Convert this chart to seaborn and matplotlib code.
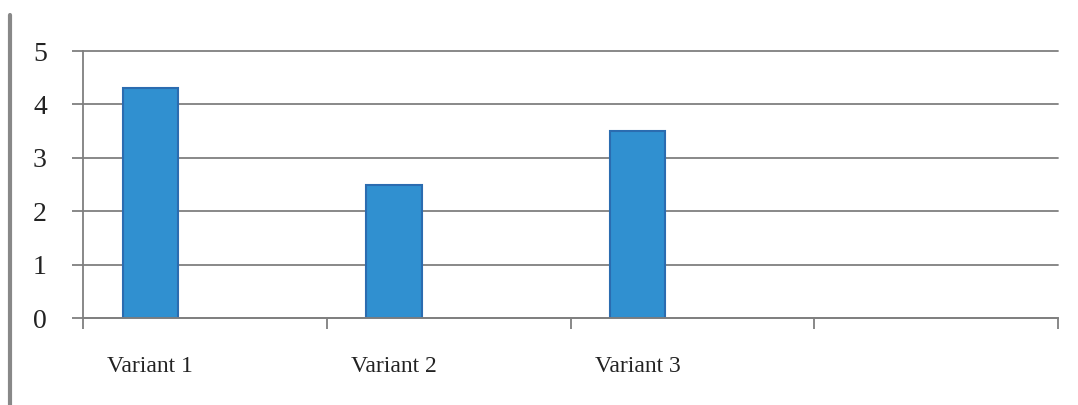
import matplotlib
matplotlib.use("Agg")
import matplotlib.pyplot as plt
import seaborn as sns
import pandas as pd
from matplotlib.lines import Line2D
from matplotlib.ticker import FixedLocator

categories = ["Variant 1", "Variant 2", "Variant 3"]
values = [4.3, 2.5, 3.5]
y_ticks = [0, 1, 2, 3, 4, 5]

sns.set_theme(style="white")
plt.rcParams['font.family'] = ['Liberation Serif', 'DejaVu Serif']

df = pd.DataFrame({"category": categories, "value": values})

fig = plt.figure(figsize=(10.78, 4.05), dpi=100)
ax = fig.add_axes([83/1078, 1-318/405, (1058-83)/1078, (318-51)/405])

sns.barplot(data=df, x="category", y="value", ax=ax, width=0.226,
            color="#3090D0", saturation=1, edgecolor="#2B6CB0", linewidth=1.5)

ax.set_xlim(-0.276, 3.724)
ax.set_ylim(0, 5)
ax.set_yticks(y_ticks)
ax.set_yticklabels([str(t) for t in y_ticks], fontsize=20, color="#222222")
ax.yaxis.grid(True, color="#7f7f7f", linewidth=1.3)
for gl in ax.yaxis.get_gridlines():
    gl.set_clip_on(False)
ax.set_axisbelow(True)
ax.tick_params(axis="y", length=8, width=1.3, color="#7f7f7f", pad=18, left=True)
ax.tick_params(axis="x", which="major", length=0, pad=27, labelsize=17, labelcolor="#222222")
ax.xaxis.set_minor_locator(FixedLocator([-0.276, 0.724, 1.724, 2.724, 3.724]))
ax.tick_params(axis="x", which="minor", length=8, width=1.3, color="#7f7f7f", bottom=True)
ax.set_xlabel("")
ax.set_ylabel("")
for s in ["top", "right"]:
    ax.spines[s].set_visible(False)
ax.spines["left"].set_color("#7f7f7f")
ax.spines["left"].set_linewidth(1.3)
ax.spines["bottom"].set_color("#7f7f7f")
ax.spines["bottom"].set_linewidth(1.3)

fig.add_artist(Line2D([10/1078, 10/1078], [0, 1-15/405], transform=fig.transFigure,
                      color="#888888", linewidth=3))

fig.savefig("out.png", dpi=100)
